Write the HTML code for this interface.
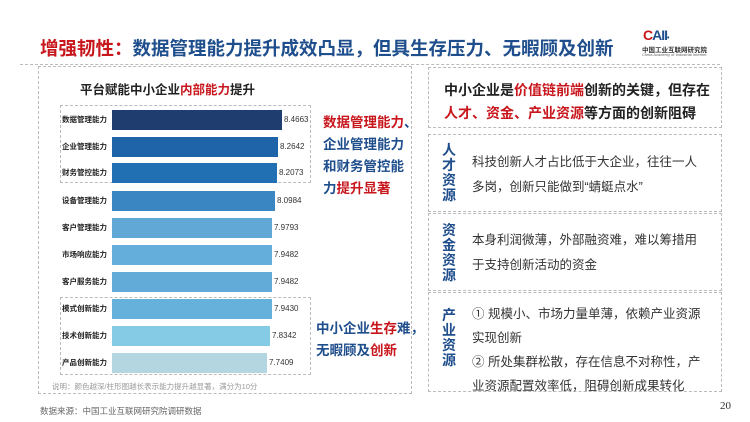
<!DOCTYPE html><html><head><meta charset="utf-8"><style>
*{margin:0;padding:0;box-sizing:border-box}
body{width:750px;height:422px;background:#fff;font-family:"Liberation Sans","Noto Sans CJK SC",sans-serif;position:relative;overflow:hidden}
.a{position:absolute;white-space:nowrap}
.r{color:#c8161d}.b{color:#1f4e8c}
.lab{position:absolute;left:62px;width:50px;font-size:7.5px;font-weight:bold;color:#222;line-height:20px}
.bar{position:absolute;left:112px;height:20px}
.val{position:absolute;font-size:8px;color:#333;line-height:20px}
.box{position:absolute;border:1px dashed #bbb}
.vl{position:absolute;left:442px;width:15px;font-size:14px;font-weight:bold;color:#1f4e8c;line-height:15px;white-space:normal}
.tx{position:absolute;left:472px;font-size:12.5px;color:#333;line-height:25px;white-space:nowrap}
</style></head><body>
<div class="a" style="left:40px;top:35px;font-size:18.5px;font-weight:bold;color:#1f4e8c"><span class="r">增强韧性：</span>数据管理能力提升成效凸显，但具生存压力、无暇顾及创新</div>
<div class="a" style="left:643px;top:27px;font-size:14px;font-weight:900;color:#1f4e8c;letter-spacing:-1px"><span class="r">C</span>AII<span style="font-size:7px">•</span></div>
<div class="a" style="left:642px;top:44px;font-size:6.5px;color:#333;font-weight:bold">中国工业互联网研究院</div>
<div class="a" style="left:642px;top:52px;font-size:4px;color:#666">China Academy of Industrial Internet</div>
<div style="position:absolute;left:20px;top:64px;width:700px;border-top:1px dashed #bbb"></div>
<div class="box" style="left:38px;top:66px;width:374px;height:328px"></div>
<div class="a" style="left:80px;top:79px;font-size:12.5px;font-weight:bold;color:#222">平台赋能中小企业<span class="r">内部能力</span>提升</div>
<div class="box" style="left:60px;top:105px;width:251px;height:78px"></div>
<div class="box" style="left:60px;top:297px;width:251px;height:78px"></div>
<div class="lab" style="top:110px">数据管理能力</div><div class="bar" style="top:110px;width:170px;background:#1f3d6e"></div><div class="val" style="top:110px;left:284px">8.4663</div>
<div class="lab" style="top:137px">企业管理能力</div><div class="bar" style="top:137px;width:166px;background:#1f64a8"></div><div class="val" style="top:137px;left:280px">8.2642</div>
<div class="lab" style="top:163px">财务管控能力</div><div class="bar" style="top:163px;width:165px;background:#2270b4"></div><div class="val" style="top:163px;left:279px">8.2073</div>
<div class="lab" style="top:191px">设备管理能力</div><div class="bar" style="top:191px;width:163px;background:#3a86c2"></div><div class="val" style="top:191px;left:277px">8.0984</div>
<div class="lab" style="top:218px">客户管理能力</div><div class="bar" style="top:218px;width:160px;background:#62a8d6"></div><div class="val" style="top:218px;left:274px">7.9793</div>
<div class="lab" style="top:245px">市场响应能力</div><div class="bar" style="top:245px;width:160px;background:#64aedb"></div><div class="val" style="top:245px;left:274px">7.9482</div>
<div class="lab" style="top:272px">客户服务能力</div><div class="bar" style="top:272px;width:160px;background:#62aad8"></div><div class="val" style="top:272px;left:274px">7.9482</div>
<div class="lab" style="top:299px">模式创新能力</div><div class="bar" style="top:299px;width:160px;background:#66b0dc"></div><div class="val" style="top:299px;left:274px">7.9430</div>
<div class="lab" style="top:326px">技术创新能力</div><div class="bar" style="top:326px;width:158px;background:#86cbe6"></div><div class="val" style="top:326px;left:272px">7.8342</div>
<div class="lab" style="top:353px">产品创新能力</div><div class="bar" style="top:353px;width:155px;background:#b3d6e0"></div><div class="val" style="top:353px;left:269px">7.7409</div>
<div class="a" style="left:323px;top:112px;font-size:13.5px;font-weight:bold;line-height:22px;color:#1f4e8c"><span class="r">数据管理能力</span>、<br>企业管理能力<br>和财务管控能<br>力<span class="r">提升显著</span></div>
<div class="a" style="left:316px;top:318px;font-size:13.5px;font-weight:bold;line-height:22px;color:#1f4e8c">中小企业<span class="r">生存</span>难，<br>无暇顾及<span class="r">创新</span></div>
<div class="a" style="left:52px;top:381px;font-size:7.5px;color:#999">说明：颜色越深/柱形图越长表示能力提升越显著，满分为10分</div>
<div class="box" style="left:428px;top:67px;width:294px;height:61px"></div>
<div class="a" style="left:444px;top:79px;font-size:14px;font-weight:bold;line-height:23px;color:#222">中小企业是<span class="r">价值链前端</span>创新的关键，但存在<br><span class="r">人才、资金、产业资源</span>等方面的创新阻碍</div>
<div class="box" style="left:428px;top:134px;width:294px;height:78px"></div>
<div class="box" style="left:428px;top:213px;width:294px;height:78px"></div>
<div class="box" style="left:428px;top:292px;width:294px;height:100px"></div>
<div class="vl" style="top:143px">人才资源</div>
<div class="tx" style="top:150px">科技创新人才占比低于大企业，往往一人<br>多岗，创新只能做到“蜻蜓点水”</div>
<div class="vl" style="top:223px">资金资源</div>
<div class="tx" style="top:228px">本身利润微薄，外部融资难，难以筹措用<br>于支持创新活动的资金</div>
<div class="vl" style="top:308px">产业资源</div>
<div class="tx" style="top:302px;line-height:24px">① 规模小、市场力量单薄，依赖产业资源<br>实现创新<br>② 所处集群松散，存在信息不对称性，产<br>业资源配置效率低，阻碍创新成果转化</div>
<div class="a" style="left:40px;top:405px;font-size:8.5px;color:#666">数据来源：中国工业互联网研究院调研数据</div>
<div class="a" style="left:720px;top:400px;font-size:11px;color:#333;font-family:'Liberation Serif',serif">20</div>
</body></html>
